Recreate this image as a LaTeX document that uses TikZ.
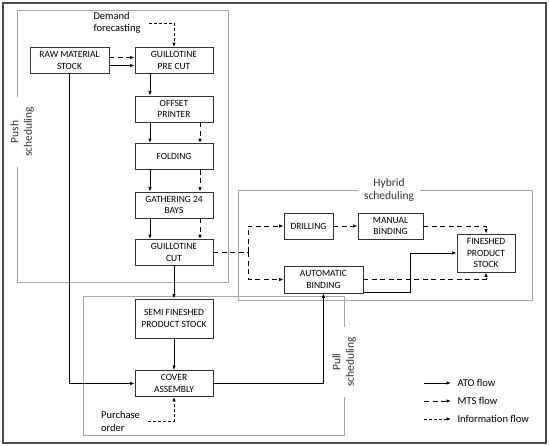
\documentclass[tikz,border=0pt]{standalone}
\usepackage{fontspec}
\setmainfont{Carlito}
\usetikzlibrary{arrows.meta}

\begin{document}
\begin{tikzpicture}[auto, x=1pt, y=1pt, node distance=48pt, >={Latex[length=4.5pt,width=3.5pt]}]
    \tikzstyle{block} = [draw=black!80, fill=white, rectangle, line width=0.8pt, align=center,
    minimum height=26pt, minimum width=78pt, inner sep=1pt, font=\fontsize{9.5}{11.5}\selectfont]
    \tikzstyle{area} = [draw=black!35, line width=0.8pt]
    \tikzstyle{areatext} = [fill=white, align=center, text=black!80, inner xsep=10pt, inner ysep=1pt,
    font=\fontsize{11.5}{13.5}\selectfont]
    \tikzstyle{note} = [align=left, font=\fontsize{10.5}{12.5}\selectfont]
    \tikzstyle{atoflow} = [->, line width=0.9pt]
    \tikzstyle{mtsflow} = [->, line width=0.9pt, dash pattern=on 5pt off 3.5pt]
    \tikzstyle{infoflow} = [->, line width=0.9pt, dash pattern=on 3pt off 2pt]
    \useasboundingbox (0,0) rectangle (549,446);
    \draw [draw=black!70, line width=1.3pt] (3,3) rectangle (546,443);
    \draw [area] (17,436) rectangle (228,164);
    \draw [area] (83,150) rectangle (344,11);
    \draw [area] (238,256) rectangle (532,146);
    \node [areatext, rotate=90] (pushlabel) at (22,314) {Push\\scheduling};
    \node [areatext, rotate=90] (pulllabel) at (344,84) {Pull\\scheduling};
    \node [areatext, inner xsep=6pt] (hybridlabel) at (389,256) {Hybrid\\scheduling};
    \node [block, minimum width=79pt] (raw) at (69.5,385.5) {RAW MATERIAL\\STOCK};
    \node [block, right of=raw, node distance=104.5pt] (precut) {GUILLOTINE\\PRE CUT};
    \node [block, below of=precut, node distance=48.5pt] (offset) {OFFSET\\PRINTER};
    \node [block, below of=offset, node distance=47.5pt] (folding) {FOLDING};
    \node [block, below of=folding, node distance=48.5pt] (gathering) {GATHERING 24\\BAYS};
    \node [block, below of=gathering, node distance=47.5pt] (gcut) {GUILLOTINE\\CUT};
    \node [block, below of=gcut, node distance=66pt, minimum height=39pt] (semi) {SEMI FINESHED\\PRODUCT STOCK};
    \node [block, below of=semi, node distance=65pt] (cover) {COVER\\ASSEMBLY};
    \node [block, minimum width=49pt] (drilling) at (308.5,220) {DRILLING};
    \node [block, right of=drilling, node distance=82pt, minimum width=65pt] (manual) {MANUAL\\BINDING};
    \node [block, minimum width=79pt, minimum height=27pt] (autob) at (323.5,166.5) {AUTOMATIC\\BINDING};
    \node [block, minimum width=58pt, minimum height=38pt] (stock) at (486,193) {FINESHED\\PRODUCT\\STOCK};
    \node [note] (demand) at (117,423) {Demand\\forecasting};
    \node [note] (purchase) at (120.5,24.5) {Purchase\\order};
    \node [note, anchor=west] (atolabel) at (454,63) {ATO flow};
    \node [note, anchor=west] (mtslabel) at (454,45) {MTS flow};
    \node [note, anchor=west] (infolabel) at (454,27) {Information flow};
    \coordinate (split) at (248,193.5);
    \draw [mtsflow] ([yshift=3pt]raw.east) -- ([yshift=3pt]precut.west);
    \draw [atoflow] ([yshift=-5pt]raw.east) -- ([yshift=-5pt]precut.west);
    \draw [atoflow] ([xshift=-24pt]precut.south) -- ([xshift=-24pt]offset.north);
    \draw [atoflow] ([xshift=-24pt]offset.south) -- ([xshift=-24pt]folding.north);
    \draw [mtsflow] ([xshift=26pt]offset.south) -- ([xshift=26pt]folding.north);
    \draw [atoflow] ([xshift=-24pt]folding.south) -- ([xshift=-24pt]gathering.north);
    \draw [mtsflow] ([xshift=26pt]folding.south) -- ([xshift=26pt]gathering.north);
    \draw [atoflow] ([xshift=-24pt]gathering.south) -- ([xshift=-24pt]gcut.north);
    \draw [mtsflow] ([xshift=26pt]gathering.south) -- ([xshift=26pt]gcut.north);
    \draw [atoflow] (gcut) -- (semi);
    \draw [atoflow] (semi) -- (cover);
    \draw [atoflow] (raw.south) |- (cover.west);
    \draw [infoflow] ([xshift=5pt]demand.east) -| (precut.north);
    \draw [infoflow] ([xshift=5pt]purchase.east) -| (cover.south);
    \draw [mtsflow, -] (gcut.east) -- (split);
    \draw [mtsflow] (split) |- (drilling.west);
    \draw [mtsflow] (split) |- (autob.west);
    \draw [mtsflow] (drilling) -- (manual);
    \draw [mtsflow] (manual.east) -| (stock.north);
    \draw [mtsflow] (autob.east) -| (stock.south);
    \draw [atoflow] ([yshift=1pt]autob.south east) -- ++(47pt,0) |- (stock.west);
    \draw [atoflow] (cover.east) -| (autob.south);
    \draw [atoflow] ([xshift=-30pt]atolabel.west) -- ([xshift=-3pt]atolabel.west);
    \draw [mtsflow] ([xshift=-30pt]mtslabel.west) -- ([xshift=-3pt]mtslabel.west);
    \draw [infoflow] ([xshift=-30pt]infolabel.west) -- ([xshift=-3pt]infolabel.west);
\end{tikzpicture}
\end{document}
